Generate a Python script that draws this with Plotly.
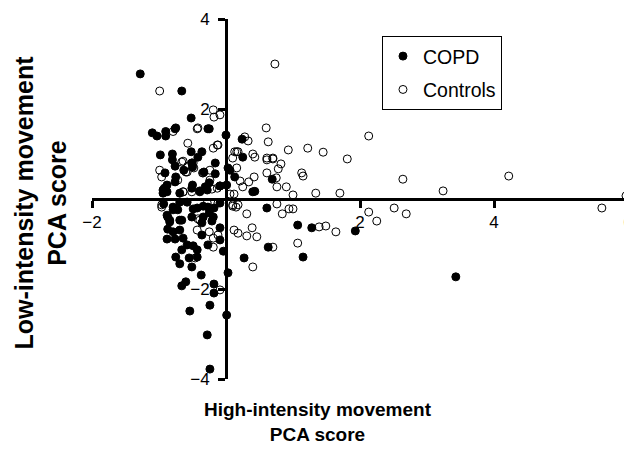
import plotly.graph_objects as go

# COPD points (high-intensity PCA score, low-intensity PCA score)
copd_x = [-1.28, -0.66, -0.52, -0.25, -1.10, -1.03, -0.90, -0.75, -0.90, 0.00,
          -0.98, -0.80, -0.52, -0.36, -0.42, -0.80, -0.76, -0.16, -0.63, -0.50,
          -0.33, -0.16, 0.06, 0.13, -0.75, -0.50, -0.39, -0.31, -0.25, -0.92,
          -0.88, -0.94, -0.88, -0.09, 0.01,
          -0.93, -0.79, -0.69, -0.49, -0.34, -0.25, -0.18, -0.88, -0.84, -0.69,
          -0.87, -0.79, -0.69, -0.36, -0.21, -0.88, -0.76, -0.64, -0.58, -0.66,
          -0.49, -0.43, -0.75, -0.69, -0.55, -0.51, -0.43, -0.27, -0.36, -0.09,
          -0.04, 0.03, -0.37, -0.66, -0.60, -0.18, -0.54, -0.24, 0.01, -0.28,
          -0.24, -0.18,
          0.25, 0.69, 0.40, 0.43, 0.61, 1.07, 1.28, 0.63, 0.27, 1.15, 1.93, 0.24, 3.43,
          -0.76, -0.27, -0.51, -0.91, -0.94, -0.51, -0.39, -0.28, -0.09, -0.76, -0.69,
          0.03, -0.79, -0.58, -0.72, -0.87, -0.84, -0.66, -0.43, -0.27, -0.09, -0.51,
          -0.34, -0.19, -0.09]
copd_y = [2.78, 2.40, 1.80, 1.56, 1.47, 1.40, 1.50, 1.58, 1.40, 1.42,
          0.98, 1.00, 1.05, 1.05, 0.93, 0.87, 0.73, 0.80, 0.64, 0.71,
          0.60, 0.56, 0.64, 0.49, 0.49, 0.31, 0.18, 0.27, 0.36, 0.24,
          0.16, 0.13, 0.31, 0.29, 0.31,
          -0.11, -0.24, -0.07, -0.22, -0.16, -0.31, -0.20, -0.36, -0.47, -0.47,
          -0.67, -0.73, -0.69, -0.53, -0.49, -0.89, -0.89, -0.87, -1.02, -1.13,
          -1.04, -1.13, -1.29, -1.44, -1.31, -1.51, -1.29, -1.02, -0.80, -0.91,
          -1.16, -1.64, -1.69, -1.93, -1.84, -1.89, -2.49, -2.36, -2.58, -3.02,
          -3.78, -2.09,
          0.93, 0.44, 0.16, 0.17, -0.20, -0.58, -0.64, -1.07, -1.31, -1.29, -0.71, 1.33, -1.73,
          1.56, 1.56, 0.80, 0.58, 0.20, 0.24, 0.16, 0.20, 0.29, 0.38, 0.13,
          0.69, -0.18, -0.07, -0.24, -0.40, -0.51, -0.47, -0.20, -0.18, -0.09, -0.40,
          -0.40, -0.40, -0.64]

# Control points
ctrl_x = [-0.99, -0.19, -0.18, -0.09, -0.42, -0.79, -0.57, -0.12, -0.19, 0.13,
          -0.64, -0.51, -0.57, -0.48, -0.99, -0.96, -0.60, -0.34, -0.24, 0.10,
          -0.72, -0.64, -0.51, -0.21, 0.06, -0.96, -0.28, -0.12, 0.10, -0.39,
          -0.43, -0.25, -0.19, -0.12, 0.12, -0.19, -0.46, -0.09,
          0.73, 0.60, 0.63, 0.28, 0.33, 0.93, 1.22, 1.45, 2.13, 1.81, 0.18, 0.40,
          0.61, 0.70, 0.43, 0.61, 0.70, 0.82, 0.78, 0.61, 0.75, 1.13, 1.15, 0.16,
          0.21, 0.34, 0.42, 0.25, 0.12, 0.76, 0.90, 1.00, 1.34, 1.70, 0.10, 0.18,
          0.76, 0.84, 0.94, 1.00, 0.31, 0.18, 0.39, 0.31, 0.46, 1.39, 1.49, 1.64,
          2.13, 2.25, 0.70, 1.07, 0.40,
          2.64, 3.24, 4.22, 5.97, 2.51, 2.69, 5.61, 0.15,
          -0.43, -0.13, 0.16, -0.66, -0.49, -0.58, -0.35, -0.24, -0.64, -0.13, -0.96, -0.42]
ctrl_y = [2.40, 1.98, 1.82, 1.87, 1.58, 1.50, 1.24, 1.20, 1.13, 1.05,
          0.84, 0.80, 0.73, 0.69, 0.64, 0.49, 0.60, 0.58, 0.64, 0.91,
          0.42, 0.16, 0.16, 0.22, 0.11, -0.18, -0.09, -0.09, -0.13, -0.47,
          -0.69, -0.73, -0.87, -0.80, -0.69, -1.07, -1.31, -2.02,
          3.00, 1.58, 1.27, 1.38, 1.29, 1.09, 1.13, 1.04, 1.40, 0.89, 1.05, 1.00,
          0.91, 0.91, 0.93, 0.87, 0.89, 0.78, 0.67, 0.58, 0.47, 0.58, 0.51, 0.69,
          0.40, 0.38, 0.49, 0.27, 0.11, 0.27, 0.27, 0.09, 0.13, 0.13, -0.16, -0.13,
          -0.11, -0.33, -0.22, -0.22, -0.33, -0.76, -0.64, -0.82, -0.84, -0.62, -0.60, -0.73,
          -0.29, -0.49, -1.07, -0.98, -1.51,
          0.44, 0.18, 0.51, 0.07, -0.20, -0.33, -0.20, -0.18,
          1.56, 1.20, 1.05, 0.82, 0.80, 0.60, 0.58, 0.42, 0.16, 0.24, -0.13, -0.44]

x_ticks = [-2, 2, 4, 6]
y_ticks = [-4, -2, 2, 4]

FONT = "Liberation Sans, Arial, sans-serif"

fig = go.Figure()
fig.add_trace(go.Scatter(
    x=copd_x, y=copd_y, mode="markers", name="COPD", legendgroup="a",
    cliponaxis=False,
    marker=dict(symbol="circle", size=8, color="black",
                line=dict(color="black", width=1)),
))
fig.add_trace(go.Scatter(
    x=ctrl_x, y=ctrl_y, mode="markers", name="Controls", legendgroup="b",
    cliponaxis=False,
    marker=dict(symbol="circle-open", size=8, color="black",
                line=dict(color="black", width=1)),
))

# the page adds an 8px body margin, so the layout is offset by -8px
L, T, PW, PH = 84, 11, 536, 360
fig.update_layout(
    width=632, height=453,
    margin=dict(l=L, r=632 - L - PW, t=T, b=453 - T - PH, autoexpand=False),
    paper_bgcolor="white", plot_bgcolor="white",
    font=dict(family=FONT, color="black", size=17),
    showlegend=True,
    legend=dict(
        x=0.541, y=0.953, xanchor="left", yanchor="top",
        bordercolor="black", borderwidth=1, bgcolor="white",
        font=dict(size=19.5, family=FONT), tracegroupgap=5,
        traceorder="grouped", itemwidth=30,
    ),
    xaxis=dict(
        range=[-2, 6], anchor="free", position=0.5, automargin=False,
        showline=True, linecolor="black", linewidth=3,
        ticks="outside", ticklen=7, tickwidth=3, tickcolor="black",
        tickvals=x_ticks, ticktext=["\u22122", "2", "4", "6"],
        showgrid=False, zeroline=False,
        tickfont=dict(size=17, family=FONT),
    ),
    yaxis=dict(
        range=[-4, 4], anchor="free", position=0.25, automargin=False,
        showline=True, linecolor="black", linewidth=3,
        ticks="outside", ticklen=7, tickwidth=3, tickcolor="black",
        tickvals=y_ticks, ticktext=["\u22124", "\u22122", "2", "4"],
        showgrid=False, zeroline=False, ticklabelstandoff=5,
        tickfont=dict(size=17, family=FONT),
    ),
    annotations=[
        dict(text="<b>High-intensity movement<br>PCA score</b>",
             xref="paper", yref="paper", x=(318 - 92) / PW, y=-0.05,
             xanchor="center", yanchor="top", showarrow=False,
             font=dict(size=19, family=FONT)),
        dict(text="<b>Low-intensity movement<br>PCA score</b>",
             xref="paper", yref="paper", x=(41 - 92) / PW, y=0.49,
             xanchor="center", yanchor="middle", showarrow=False,
             textangle=-90, font=dict(size=25, family=FONT)),
    ],
)

fig.write_html("out.html")
